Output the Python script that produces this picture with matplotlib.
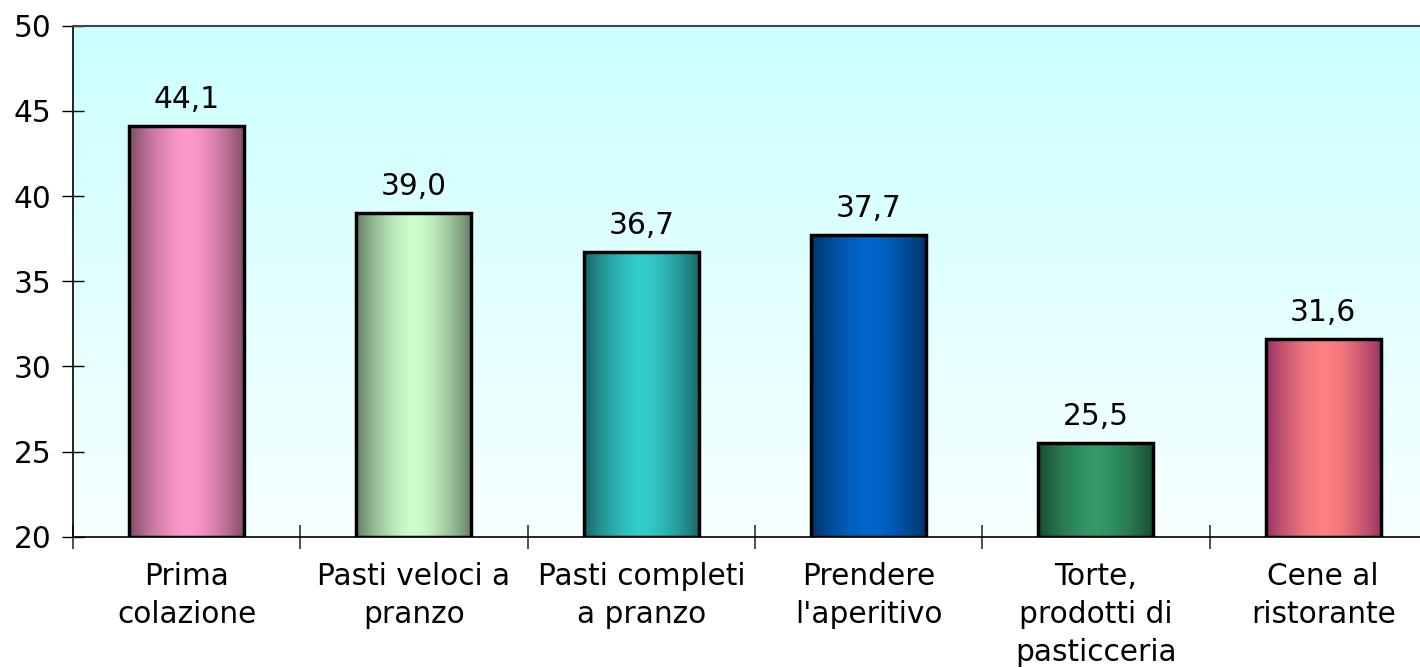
import numpy as np
import matplotlib
matplotlib.use("Agg")
import matplotlib.pyplot as plt
from matplotlib.colors import to_rgb

categories = ["Prima\ncolazione", "Pasti veloci a\npranzo", "Pasti completi\na pranzo",
              "Prendere\nl'aperitivo", "Torte,\nprodotti di\npasticceria", "Cene al\nristorante"]
values = [44.1, 39.0, 36.7, 37.7, 25.5, 31.6]
value_labels = ["44,1", "39,0", "36,7", "37,7", "25,5", "31,6"]
light_colors = ["#FF99CC", "#CCFFCC", "#33CCCC", "#0066CC", "#339966", "#FF8080"]
dark_colors = ["#7F4C66", "#667F66", "#196666", "#003366", "#194C33", "#993366"]
y_ticks = [20, 25, 30, 35, 40, 45, 50]

FS = 21.3
fig = plt.figure(figsize=(14.2, 6.68), dpi=100)
ax = fig.add_axes([0.0514, 0.1966, 0.9486, 0.7649])

x = np.arange(len(values))
ymin, ymax = 20, 50
width = 0.506
XLIM = (-0.5, -0.5 + 6 * (1420 - 73.3) / (1438 - 74.4))

# background gradient
bg = np.linspace(0, 1, 256).reshape(-1, 1)
top = np.array(to_rgb("#CCFFFF"))
bot = np.array(to_rgb("#F7FFFF"))
bgimg = bot[None, None, :] * (1 - bg[..., None]) + top[None, None, :] * bg[..., None]
ax.imshow(bgimg, extent=[0, 1, 0, 1], transform=ax.transAxes, origin="lower",
          aspect="auto", zorder=0, interpolation="bilinear")

bars = ax.bar(x, [v - ymin for v in values], bottom=ymin, width=width,
              facecolor="none", edgecolor="black", linewidth=2.5, zorder=3)

u = np.linspace(0, 1, 200)
w = 1 - np.abs(2 * u - 1) ** 1.6
for b, lc, dc in zip(bars, light_colors, dark_colors):
    l = np.array(to_rgb(lc)); d = np.array(to_rgb(dc))
    img = d[None, :] * (1 - w[:, None]) + l[None, :] * w[:, None]
    img = img[None, :, :]
    x0 = b.get_x(); x1 = x0 + b.get_width()
    ax.imshow(img, extent=[x0, x1, ymin, ymin + b.get_height()], aspect="auto",
              zorder=2, interpolation="bilinear")

for xi, v, lab in zip(x, values, value_labels):
    ax.annotate(lab, (xi, v), xytext=(0, 8.5), textcoords="offset points",
                ha="center", va="bottom", fontsize=FS, color="black", zorder=4)

ax.set_yticks(y_ticks)
ax.set_yticklabels([str(t) for t in y_ticks], fontsize=FS)
ax.tick_params(axis="y", direction="inout", length=16, width=1, pad=7.5, colors="black")

ax.set_xticks(np.arange(-0.5, 5.0, 1.0))
ax.set_xticklabels([])
ax.tick_params(axis="x", direction="inout", length=17, width=1.2, color="#333333")

ax.set_xlim(*XLIM)
ax.set_ylim(ymin, ymax)

for xi, c in zip(x, categories):
    ax.text(xi, -0.05, c, transform=ax.get_xaxis_transform(), ha="center", va="top",
            fontsize=FS, linespacing=1.38)

for s in ["left", "bottom"]:
    ax.spines[s].set_color("black")
    ax.spines[s].set_linewidth(1.2)
ax.spines["top"].set_color("#444444")
ax.spines["top"].set_linewidth(1.5)
ax.spines["right"].set_visible(False)

fig.savefig("out.png", dpi=100)
